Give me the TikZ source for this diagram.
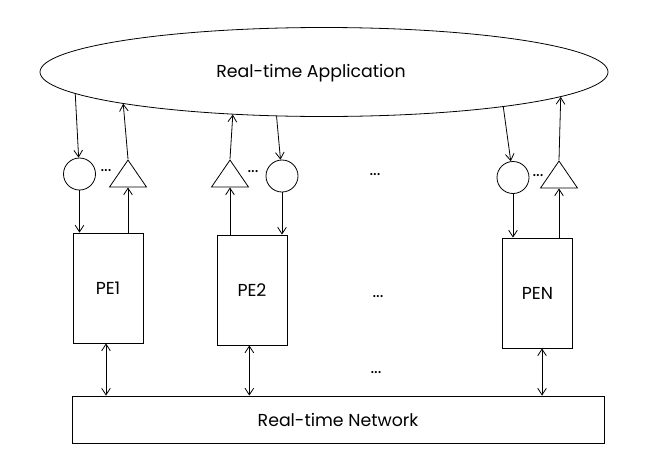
\documentclass[tikz,border=0pt]{standalone}
\usepackage{fontspec}
\setmainfont{Poppins}
\usetikzlibrary{shapes.geometric,arrows.meta}
\begin{document}
\begin{tikzpicture}[x=0.75pt,y=-0.75pt,line width=0.6pt,
        >={Straight Barb[length=5pt,width=6.5pt]},
        font=\fontsize{13}{15}\selectfont,
        pebox/.style={draw,minimum width=52.5pt,minimum height=82.5pt},
        inport/.style={draw,circle,minimum size=24pt,inner sep=0pt},
        outport/.style={draw,isosceles triangle,isosceles triangle stretches,
            shape border rotate=90,minimum width=27.75pt,minimum height=20.25pt,inner sep=0pt}]
            \useasboundingbox (0,0) rectangle (646,475);

            \node[draw,ellipse,minimum width=426pt,minimum height=66.75pt] (app) at (324,72) {};
            \node (apptext) at (311,73) {Real-time Application};

            \node[pebox] (pe1) at (108,288) {PE1};
            \node[pebox] (pe2) at (252,290) {PE2};
            \node[pebox] (pen) at (537.5,293) {PEN};
            \node[draw,minimum width=399pt,minimum height=35.25pt] (net) at (338,419.5) {Real-time Network};

            \node[inport] (c1) at (79.5,174) {};
            \node[outport,anchor=apex] (t1) at (128,159) {};
            \node (dots1) at (106,171) {...};
            \node[outport,anchor=apex] (t2) at (230,159) {};
            \node[inport] (c2) at (282,176) {};
            \node (dots2) at (253,172) {...};
            \node[inport] (cn) at (513,177.5) {};
            \node[outport,anchor=apex] (tn) at (559,160) {};
            \node (dotsn) at (538,176) {...};

            \node (dotsa) at (375,175) {...};
            \node (dotsb) at (378,297) {...};
            \node (dotsc) at (376,373) {...};

            \draw[->] (app.185.3) -- (c1);
            \draw[->] (c1) -- (c1 |- pe1.north);
            \draw[->] (t1 |- pe1.north) -- (t1.lower side);
            \draw[->] (t1.apex) -- (app.189.6);

            \draw[->] (t2 |- pe2.north) -- (t2.lower side);
            \draw[->] (t2.apex) -- (app.205.8);
            \draw[->] (app.223.8) -- (c2);
            \draw[->] (c2) -- (c2 |- pe2.north);

            \draw[->] (app.349.8) -- (cn);
            \draw[->] (cn) -- (cn |- pen.north);
            \draw[->] (tn |- pen.north) -- (tn.lower side);
            \draw[->] (tn.apex) -- (app.354.1);

            \draw[<->] ([xshift=-1.5pt]pe1.south) -- ([xshift=-1.5pt]pe1.south |- net.north);
            \draw[<->] ([xshift=-2pt]pe2.south) -- ([xshift=-2pt]pe2.south |- net.north);
            \draw[<->] ([xshift=3.4pt]pen.south) -- ([xshift=3.4pt]pen.south |- net.north);
        \end{tikzpicture}
\end{document}
